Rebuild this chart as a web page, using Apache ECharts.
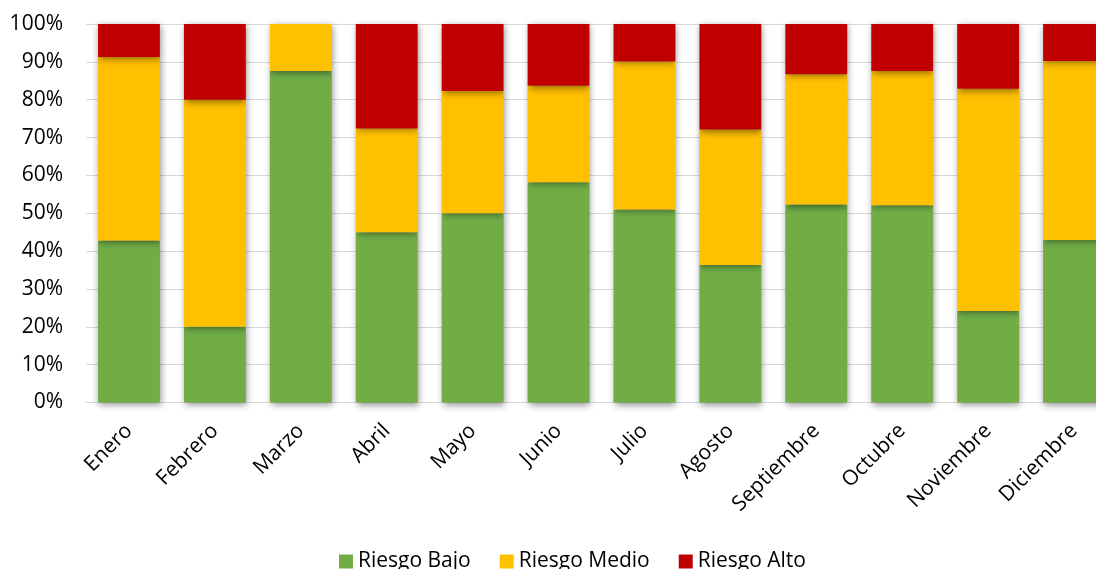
<!DOCTYPE html>
<html>
<head>
<meta charset="utf-8">
<style>
  html, body { margin: 0; padding: 0; background: #ffffff; overflow: hidden; }
  #chart { width: 1120px; height: 569px; }
</style>
<script src="https://cdn.jsdelivr.net/npm/echarts@6/dist/echarts.min.js"></script>
</head>
<body>
<div id="chart"></div>
<script>
// Monthly share of each risk level (percent of the month total)
const months = ['Enero', 'Febrero', 'Marzo', 'Abril', 'Mayo', 'Junio', 'Julio', 'Agosto', 'Septiembre', 'Octubre', 'Noviembre', 'Diciembre'];
const riesgoBajo  = [42.8, 20.0, 87.6, 45.0, 50.0, 58.2, 51.0, 36.3, 52.3, 52.1, 24.2, 42.9];
const riesgoMedio = [48.5, 60.0, 12.4, 27.4, 32.3, 25.5, 39.1, 35.8, 34.4, 35.5, 58.7, 47.3];
const riesgoAlto  = [8.7, 20.0, 0.0, 27.6, 17.7, 16.3, 9.9, 27.9, 13.3, 12.4, 17.1, 9.8];

const FONT = '"Open Sans", "Noto Sans", sans-serif';

const barShadow = {
  shadowColor: 'rgba(0,0,0,0.45)',
  shadowBlur: 7,
  shadowOffsetX: 1,
  shadowOffsetY: 2
};

function stackSeries(name, data, color) {
  return {
    name: name,
    type: 'bar',
    stack: 'total',
    data: data,
    barCategoryGap: '28%',
    itemStyle: Object.assign({ color: color }, barShadow)
  };
}

// The plot runs a little past the right edge of the visible window,
// so the last column is partly cut off.
const chart = echarts.init(document.getElementById('chart'), null, { renderer: 'canvas' });
chart.setOption({
  animation: false,
  backgroundColor: '#ffffff',
  textStyle: { fontFamily: FONT, color: '#000000' },
  grid: { left: 86, top: 24, width: 1031, height: 378.5, containLabel: false },
  legend: {
    data: ['Riesgo Bajo', 'Riesgo Medio', 'Riesgo Alto'],
    left: 334,
    top: 546,
    icon: 'rect',
    itemWidth: 14,
    itemHeight: 14,
    itemGap: 29,
    textStyle: { fontFamily: FONT, fontSize: 21, color: '#000000' }
  },
  xAxis: {
    type: 'category',
    data: months,
    axisLine: { show: true, lineStyle: { color: '#d9d9d9', width: 1 } },
    axisTick: { show: false },
    axisLabel: {
      rotate: 45,
      interval: 0,
      margin: 25,
      fontFamily: FONT,
      fontSize: 21,
      color: '#000000'
    }
  },
  yAxis: {
    type: 'value',
    min: 0,
    max: 100,
    interval: 10,
    axisLine: { show: false },
    axisTick: { show: false },
    splitLine: { lineStyle: { color: '#d9d9d9', width: 1 } },
    axisLabel: {
      formatter: '{value}%',
      margin: 23,
      fontFamily: FONT,
      fontSize: 21,
      color: '#000000'
    }
  },
  series: [
    stackSeries('Riesgo Bajo', riesgoBajo, '#70AD47'),
    stackSeries('Riesgo Medio', riesgoMedio, '#FFC000'),
    stackSeries('Riesgo Alto', riesgoAlto, '#C00000')
  ]
});
</script>
</body>
</html>
